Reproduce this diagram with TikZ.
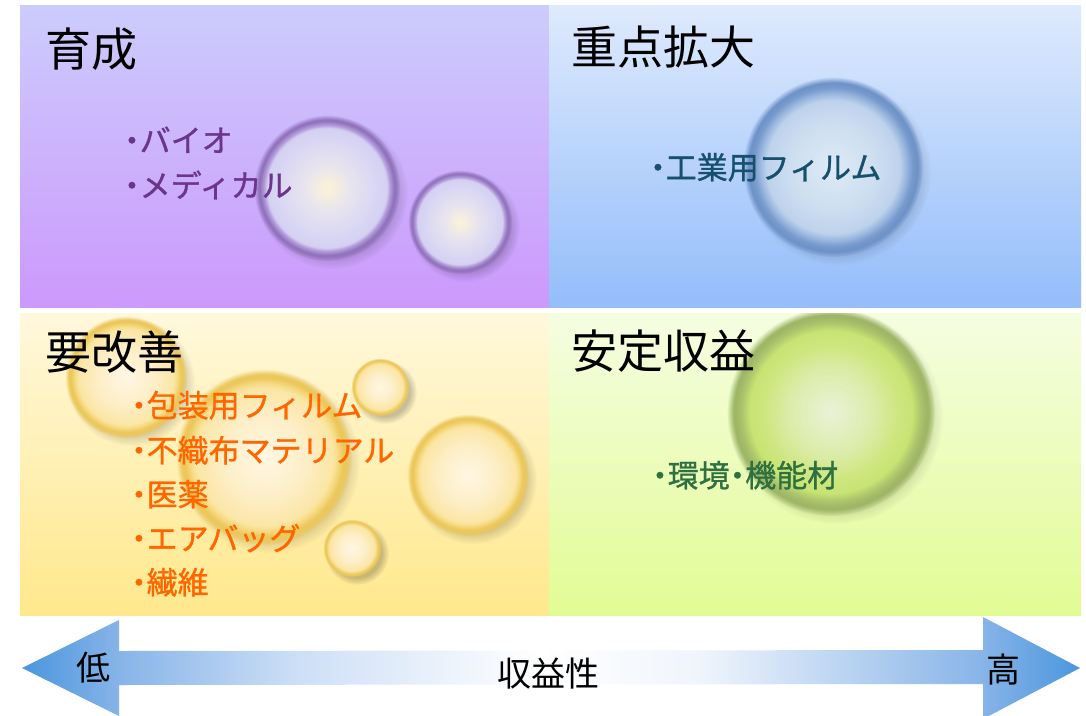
\documentclass[tikz,border=0pt]{standalone}
\usepackage{fontspec}
\setmainfont{Noto Sans CJK JP}
\newfontfamily\itemfont{Noto Sans CJK JP}[FakeBold=1.0]
\usetikzlibrary{fadings}
\newcommand\dotb{\makebox[0.5em][c]{・}}
% quadrant colours
\definecolor{tlT}{RGB}{204,204,252}\definecolor{tlM}{RGB}{204,192,252}\definecolor{tlB}{RGB}{204,153,252}
\definecolor{trT}{RGB}{222,234,253}\definecolor{trM}{RGB}{190,212,250}\definecolor{trB}{RGB}{148,189,250}
\definecolor{blT}{RGB}{255,248,220}\definecolor{blM}{RGB}{255,240,182}\definecolor{blB}{RGB}{255,232,140}
\definecolor{brT}{RGB}{245,253,225}\definecolor{brM}{RGB}{235,252,190}\definecolor{brB}{RGB}{226,252,148}
% text colours
\definecolor{txPurple}{RGB}{108,52,140}
\definecolor{txTeal}{RGB}{22,80,108}
\definecolor{txGreen}{RGB}{46,112,64}
\definecolor{txOrange}{RGB}{255,102,0}
% bubble colours
\definecolor{yA}{RGB}{255,247,228}\definecolor{yB}{RGB}{253,238,198}\definecolor{yC}{RGB}{251,230,165}
\definecolor{yD}{RGB}{246,218,130}\definecolor{yE}{RGB}{236,200,92}
\definecolor{pA}{RGB}{253,243,215}\definecolor{pB}{RGB}{232,228,238}\definecolor{pC}{RGB}{216,214,244}
\definecolor{pD}{RGB}{212,208,242}\definecolor{pE}{RGB}{180,158,220}\definecolor{pF}{RGB}{145,114,188}
\definecolor{bA}{RGB}{222,234,246}\definecolor{bB}{RGB}{205,222,240}\definecolor{bC}{RGB}{190,210,236}
\definecolor{bD}{RGB}{160,188,225}\definecolor{bE}{RGB}{120,155,205}\definecolor{bF}{RGB}{108,145,200}
\definecolor{gA}{RGB}{234,242,216}\definecolor{gB}{RGB}{220,236,170}\definecolor{gC}{RGB}{205,230,125}
\definecolor{gD}{RGB}{200,228,115}\definecolor{gE}{RGB}{172,196,108}\definecolor{gF}{RGB}{158,182,102}
% arrow colours
\definecolor{aB}{RGB}{74,150,222}\definecolor{aL}{RGB}{135,180,232}\definecolor{aM}{RGB}{205,223,246}
\definecolor{aW}{RGB}{240,245,252}
\pgfdeclareradialshading{bubY}{\pgfpointorigin}{color(0bp)=(yA); color(12bp)=(yB); color(19.5bp)=(yC); color(21bp)=(yD); color(22.5bp)=(yE); color(50bp)=(yE)}
\pgfdeclareradialshading{bubP}{\pgfpointorigin}{color(0bp)=(pA); color(8bp)=(pB); color(17bp)=(pC); color(20.5bp)=(pD); color(21.5bp)=(pE); color(23bp)=(pF); color(50bp)=(pF)}
\pgfdeclareradialshading{bubB}{\pgfpointorigin}{color(0bp)=(bA); color(12bp)=(bB); color(18.5bp)=(bC); color(20bp)=(bD); color(22bp)=(bE); color(23.5bp)=(bF); color(50bp)=(bF)}
\pgfdeclareradialshading{bubG}{\pgfpointorigin}{color(0bp)=(gA); color(10bp)=(gB); color(16.5bp)=(gC); color(19.5bp)=(gD); color(21.5bp)=(gE); color(23bp)=(gF); color(50bp)=(gF)}
\pgfdeclareradialshading{bubfadeshade}{\pgfpointorigin}{color(0bp)=(pgftransparent!0); color(23.3bp)=(pgftransparent!0); color(25bp)=(pgftransparent!100); color(50bp)=(pgftransparent!100)}
\pgfdeclarefading{bubfade}{\pgfuseshading{bubfadeshade}}
\pgfdeclareradialshading{shadfadeshade}{\pgfpointorigin}{color(0bp)=(pgftransparent!0); color(19bp)=(pgftransparent!0); color(25bp)=(pgftransparent!100); color(50bp)=(pgftransparent!100)}
\pgfdeclarefading{shadfade}{\pgfuseshading{shadfadeshade}}
\pgfdeclarehorizontalshading{arrowsh}{100bp}{color(0bp)=(aB); color(25bp)=(aB); color(29.6bp)=(aL); color(38bp)=(aM); color(49.5bp)=(white); color(57bp)=(aW); color(70.4bp)=(aL); color(75bp)=(aB); color(100bp)=(aB)}
\newcommand\mybubble[4]{%
  \fill[black,opacity=.22,path fading=shadfade] (#1+5,#2+5) circle (#3+3);
  \shade[shading=#4,path fading=bubfade] (#1,#2) circle (#3);}
\tikzset{
  title/.style={anchor=base west,inner sep=0pt,font=\fontsize{46}{46}\selectfont,text=black},
  item/.style={anchor=base west,inner sep=0pt,font=\itemfont\fontsize{31}{31}\selectfont},
  axislabel/.style={anchor=base,inner sep=0pt,font=\fontsize{34}{34}\selectfont,text=black}
}
\begin{document}
\begin{tikzpicture}[x=1pt,y=-1pt]
\useasboundingbox (0,0) rectangle (1086,715);
\clip (0,0) rectangle (1086,715);
\fill[white] (0,0) rectangle (1086,715);
% quadrants
\shade[top color=tlT,middle color=tlM,bottom color=tlB] (20,5) rectangle (549,307);
\shade[top color=trT,middle color=trM,bottom color=trB] (549,5) rectangle (1081,307);
\shade[top color=blT,middle color=blM,bottom color=blB] (20,313) rectangle (549,615);
\shade[top color=brT,middle color=brM,bottom color=brB] (549,313) rectangle (1081,615);
% bubbles
\begin{scope}
  \clip (20,5) rectangle (549,307);
  \mybubble{327}{188}{73}{bubP}
  \mybubble{460}{222}{52}{bubP}
\end{scope}
\begin{scope}
  \clip (549,5) rectangle (1081,307);
  \mybubble{833}{167}{90}{bubB}
\end{scope}
\begin{scope}
  \clip (20,313) rectangle (549,615);
  \mybubble{126}{377}{61}{bubY}
  \mybubble{264}{457}{88}{bubY}
  \mybubble{380}{387}{29}{bubY}
  \mybubble{468}{475}{61}{bubY}
  \mybubble{352}{548}{29}{bubY}
\end{scope}
\begin{scope}
  \clip (549,313) rectangle (1081,615);
  \mybubble{831}{412}{104}{bubG}
\end{scope}
% titles
\node[title] (t1) at (45,66) {育成};
\node[title] (t2) at (571,64) {重点拡大};
\node[title] (t3) at (45,369) {要改善};
\node[title] (t4) at (571,368) {安定収益};
% items
\node[item,text=txPurple] (p1) at (124,152) {\dotb バイオ};
\node[item,text=txPurple] (p2) at (124,197) {\dotb メディカル};
\node[item,text=txTeal] (b1) at (650,179) {\dotb 工業用フィルム};
\node[item,text=txGreen] (g1) at (652,487) {\dotb 環境\dotb 機能材};
\node[item,text=txOrange] (o1) at (131,417) {\dotb 包装用フィルム};
\node[item,text=txOrange] (o2) at (131,462) {\dotb 不織布マテリアル};
\node[item,text=txOrange] (o3) at (131,506) {\dotb 医薬};
\node[item,text=txOrange] (o4) at (131,550) {\dotb エアバッグ};
\node[item,text=txOrange] (o5) at (131,594) {\dotb 繊維};
% axis arrow
\shade[shading=arrowsh] (22,668) -- (119,620) -- (119,651) -- (983,650) -- (983,617) -- (1080,668) -- (983,719) -- (983,684) -- (119,685) -- (119,716) -- cycle;
\node[axislabel] (low) at (93,680) {低};
\node[axislabel] (mid) at (548,686) {収益性};
\node[axislabel] (high) at (1003,682) {高};
\end{tikzpicture}
\end{document}
